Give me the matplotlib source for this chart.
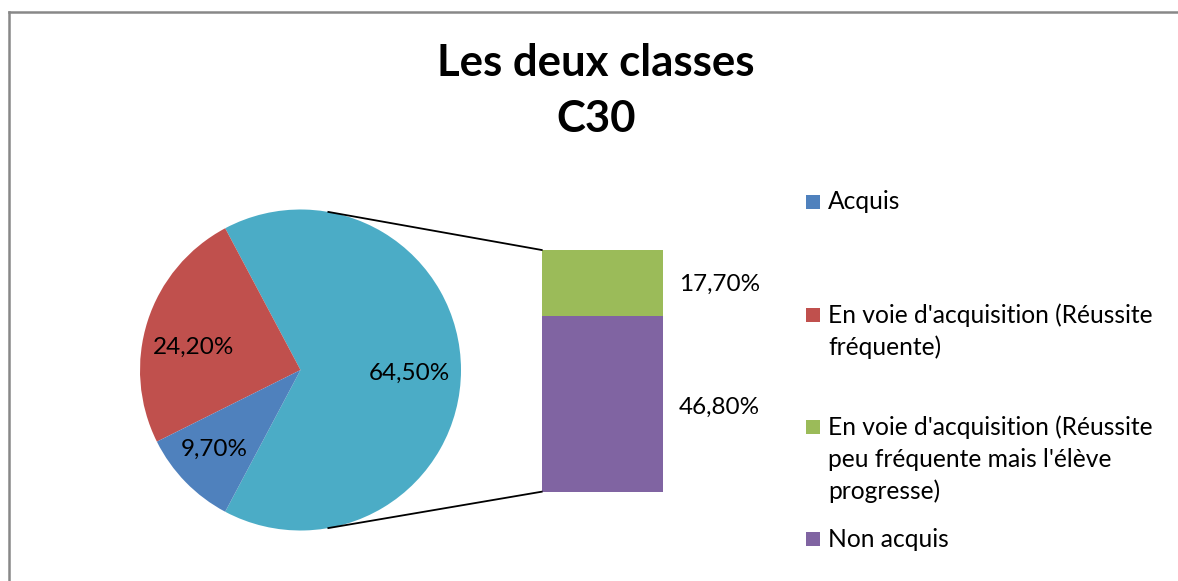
import numpy as np
import matplotlib.pyplot as plt
from matplotlib.lines import Line2D

plt.rcParams['font.family'] = ['Lato', 'DejaVu Sans']

# data
categories = ["Acquis",
              "En voie d'acquisition (Réussite\nfréquente)",
              "En voie d'acquisition (Réussite\npeu fréquente mais l'élève\nprogresse)",
              "Non acquis"]
values = [9.7, 24.2, 17.7, 46.8]
colors = ['#4F81BD', '#C0504D', '#9BBB59', '#8064A2']
other_color = '#4BACC6'
title = "Les deux classes\nC30"

W, H = 1178, 581
fig = plt.figure(figsize=(W / 100, H / 100), dpi=100)
ax = fig.add_axes([0, 0, 1, 1])


def Y(y):
    return H - y


def fmt(v):
    return f"{v:.2f}%".replace('.', ',')


# pie: "other" slice (bar part) centred on the right
other = values[2] + values[3]
pie_vals = [other, values[1], values[0]]
share = other / sum(pie_vals)
cx, cy, r = 300.5, Y(370), 160.5
ax.pie(pie_vals, colors=[other_color, colors[1], colors[0]],
       startangle=-share * 180, center=(cx, cy), radius=r,
       wedgeprops=dict(linewidth=0))

# pie labels
pie_label_pos = [(409, 373), (194, 347), (214, 449)]
for v, (x, y) in zip(pie_vals, pie_label_pos):
    ax.text(x, Y(y), fmt(v), ha='center', va='center', fontsize=17.5, color='black')

# stacked bar of the other slice
bar_x, bar_w = 602.2, 121
bar_bottom, bar_top = Y(491.7), Y(250)
scale = (bar_top - bar_bottom) / other
bottom = bar_bottom
bar_label_y = [407, 284]
for v, c, ly in zip([values[3], values[2]], [colors[3], colors[2]], bar_label_y):
    ax.bar(bar_x, v * scale, bottom=bottom, width=bar_w, color=c, linewidth=0)
    ax.text(679, Y(ly), fmt(v), ha='left', va='center', fontsize=17.5, color='black')
    bottom += v * scale

# connector lines
a = np.radians(80)
ax.plot([cx + r * np.cos(a), bar_x - bar_w / 2], [cy + r * np.sin(a), bar_top], color='black', lw=1.3)
ax.plot([cx + r * np.cos(a), bar_x - bar_w / 2], [cy - r * np.sin(a), bar_bottom], color='black', lw=1.3)

# legend
leg_y = [201.5, 315, 427, 539.3]
for cat, c, y0 in zip(categories, colors, leg_y):
    ax.add_patch(plt.Rectangle((806, Y(y0) - 7), 14, 14, color=c, lw=0))
    for i, line in enumerate(cat.split('\n')):
        ax.text(828, Y(y0 + i * 32.3), line, ha='left', va='center', fontsize=17.7, color='black')

# title
for i, line in enumerate(title.split('\n')):
    ax.text(596, Y(63 + i * 56), line, ha='center', va='center', fontsize=31.5,
            fontweight='bold', color='black')

ax.set_xlim(0, W)
ax.set_ylim(0, H)
ax.set_aspect('auto')
ax.axis('off')

# chart border (top and left visible)
fig.add_artist(Line2D([9 / W, 1], [1 - 11.5 / H, 1 - 11.5 / H], color='#888888', lw=1.8))
fig.add_artist(Line2D([9 / W, 9 / W], [0, 1 - 11.5 / H], color='#888888', lw=1.8))

fig.savefig('out.png', dpi=100, facecolor='white')
